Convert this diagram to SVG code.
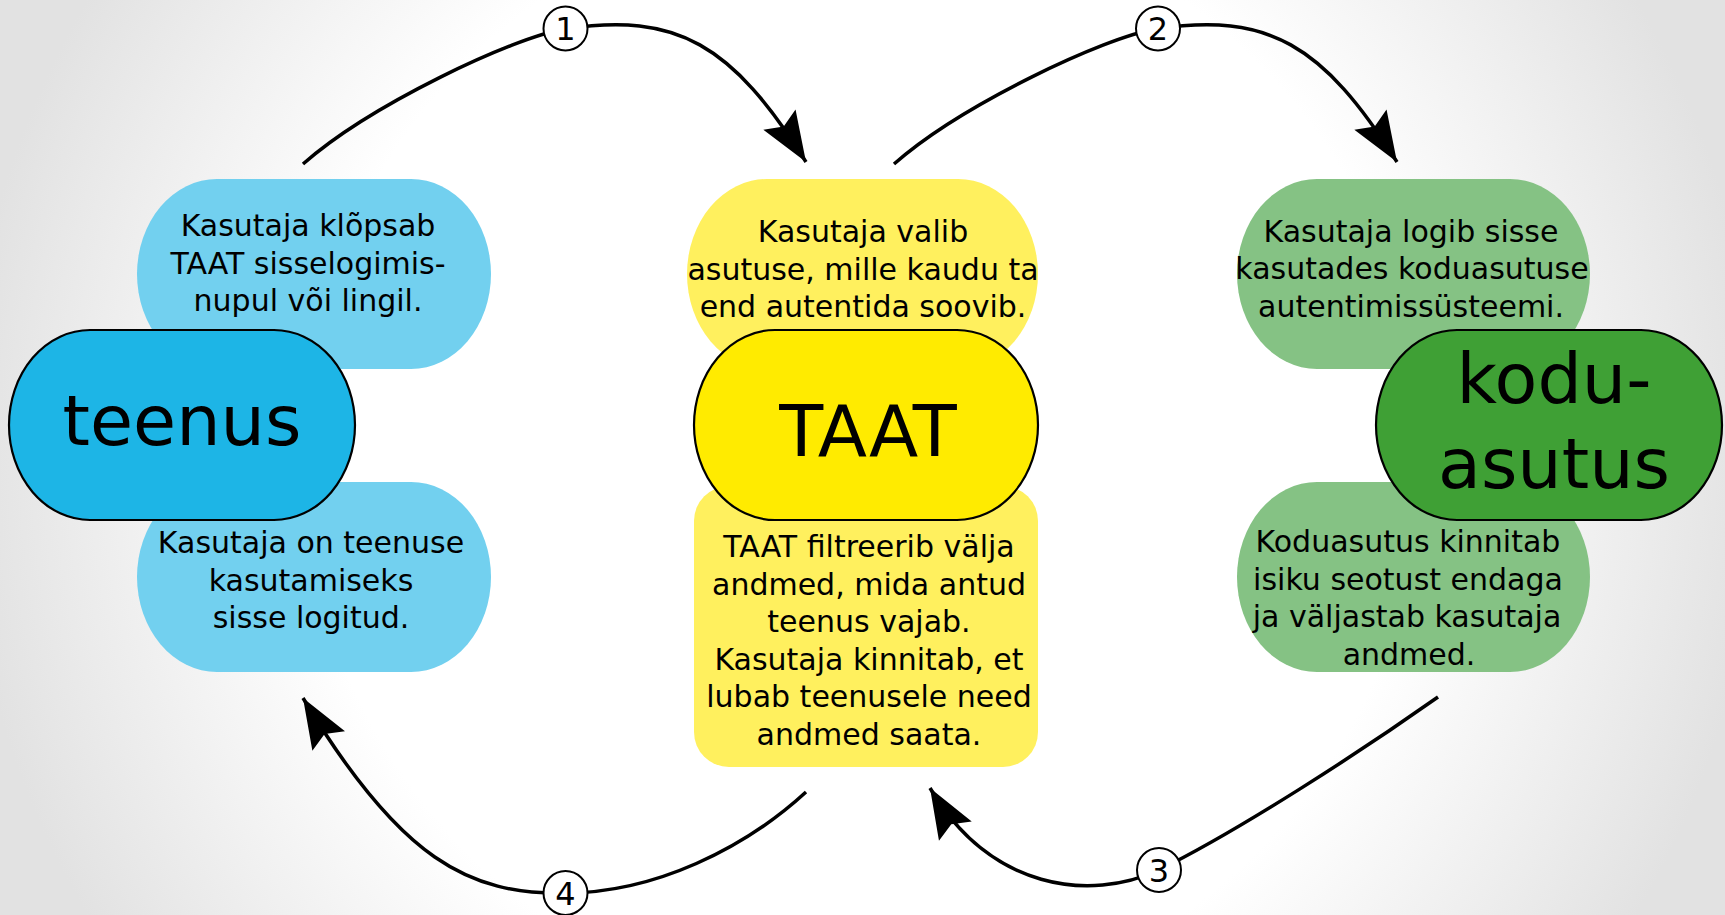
<svg xmlns="http://www.w3.org/2000/svg" width="1725" height="915" viewBox="0 0 1725 915">
<defs>
<radialGradient id="bg" gradientUnits="userSpaceOnUse" cx="862" cy="457" r="900">
<stop offset="0" stop-color="#ffffff"/>
<stop offset="0.62" stop-color="#ffffff"/>
<stop offset="1" stop-color="#e2e2e2"/>
</radialGradient>
<marker id="arrow" markerUnits="userSpaceOnUse" viewBox="-52 -22 56 44" markerWidth="56" markerHeight="44" refX="0" refY="0" orient="auto">
<path d="M0,0 L-50,-19 L-42,0 L-50,19 Z" fill="#000"/>
</marker>
<style>
.t{font-family:"DejaVu Sans","Liberation Sans",sans-serif;font-size:30px;fill:#000;text-anchor:middle}
.big{font-family:"DejaVu Sans","Liberation Sans",sans-serif;font-size:70px;fill:#000;text-anchor:middle}
.num{font-family:"DejaVu Sans","Liberation Sans",sans-serif;font-size:32px;fill:#000;text-anchor:middle}
.pill{stroke:#000;stroke-width:2.2}
.conn{fill:none;stroke:#000;stroke-width:3.5}
.badge{fill:#fff;stroke:#000;stroke-width:2}
</style>
</defs>
<rect x="0" y="0" width="1725" height="915" fill="url(#bg)"/>

<g id="teenus-top">
<rect x="137" y="179" width="354" height="190" rx="80" ry="95" fill="#72d0ef"/>
<text class="t" x="308" y="236">Kasutaja klõpsab</text>
<text class="t" x="308" y="273.5">TAAT sisselogimis-</text>
<text class="t" x="308" y="311">nupul või lingil.</text>
</g>
<g id="teenus-bottom">
<rect x="137" y="482" width="354" height="190" rx="80" ry="95" fill="#72d0ef"/>
<text class="t" x="311" y="553">Kasutaja on teenuse</text>
<text class="t" x="311" y="590.5">kasutamiseks</text>
<text class="t" x="311" y="628">sisse logitud.</text>
</g>
<g id="teenus">
<rect class="pill" x="9" y="330" width="346" height="190" rx="81" ry="95" fill="#1db5e6"/>
<text class="big" x="182" y="445">teenus</text>
</g>

<g id="taat-top">
<rect x="687" y="179" width="351" height="190" rx="80" ry="95" fill="#fff05e"/>
<text class="t" x="863" y="242">Kasutaja valib</text>
<text class="t" x="863" y="279.5">asutuse, mille kaudu ta</text>
<text class="t" x="863" y="317">end autentida soovib.</text>
</g>
<g id="taat-bottom">
<rect x="694" y="486" width="344" height="281" rx="35" ry="35" fill="#fff05e"/>
<text class="t" x="869" y="557">TAAT filtreerib välja</text>
<text class="t" x="869" y="594.6">andmed, mida antud</text>
<text class="t" x="869" y="632.2">teenus vajab.</text>
<text class="t" x="869" y="669.8">Kasutaja kinnitab, et</text>
<text class="t" x="869" y="707.4">lubab teenusele need</text>
<text class="t" x="869" y="745">andmed saata.</text>
</g>
<g id="taat">
<rect class="pill" x="694" y="330" width="344" height="190" rx="81" ry="95" fill="#ffeb00"/>
<text class="big" x="868" y="456" style="font-size:72px">TAAT</text>
</g>

<g id="kodu-top">
<rect x="1237" y="179" width="353" height="190" rx="80" ry="95" fill="#85c284"/>
<text class="t" x="1411" y="241.5">Kasutaja logib sisse</text>
<text class="t" x="1412" y="279">kasutades koduasutuse</text>
<text class="t" x="1411" y="317">autentimissüsteemi.</text>
</g>
<g id="kodu-bottom">
<rect x="1237" y="482" width="353" height="190" rx="80" ry="95" fill="#85c284"/>
<text class="t" x="1408" y="552">Koduasutus kinnitab</text>
<text class="t" x="1408" y="589.5">isiku seotust endaga</text>
<text class="t" x="1407" y="627">ja väljastab kasutaja</text>
<text class="t" x="1409" y="664.5">andmed.</text>
</g>
<g id="koduasutus">
<rect class="pill" x="1376" y="330" width="346" height="190" rx="81" ry="95" fill="#3fa035"/>
<text class="big" x="1554" y="403">kodu-</text>
<text class="big" x="1554" y="488">asutus</text>
</g>

<g id="connectors">
<path class="conn" marker-end="url(#arrow)" d="M303,164 C370,105 514,37 565,29 C677,12 732,44 806,162"/>
<path class="conn" marker-end="url(#arrow)" d="M894,164 C961,105 1105,37 1156,29 C1268,12 1323,44 1397,162"/>
<path class="conn" marker-end="url(#arrow)" d="M1438,697 C1360,752 1240,830 1159,870 C1090,902 990,890 930,788"/>
<path class="conn" marker-end="url(#arrow)" d="M806,792 C745,848 655,893 565,893 C470,895 400,860 303,698"/>
<g id="badge-1"><circle class="badge" cx="565.5" cy="28.5" r="22"/><text class="num" x="565.5" y="40">1</text></g>
<g id="badge-2"><circle class="badge" cx="1158" cy="28.5" r="22"/><text class="num" x="1158" y="40">2</text></g>
<g id="badge-3"><circle class="badge" cx="1159" cy="870" r="22"/><text class="num" x="1159" y="881.5">3</text></g>
<g id="badge-4"><circle class="badge" cx="565.5" cy="893" r="22"/><text class="num" x="565.5" y="904.5">4</text></g>
</g>
</svg>
